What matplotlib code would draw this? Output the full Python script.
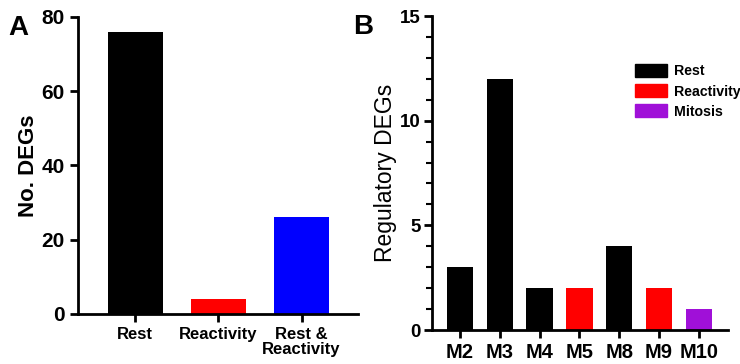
import numpy as np
import matplotlib.pyplot as plt
from matplotlib.patches import Patch
from matplotlib.ticker import MultipleLocator

plt.rcParams['font.family'] = ['Liberation Sans', 'DejaVu Sans']

# panel A
groups_a = ['Rest', 'Reactivity', 'Rest &\nReactivity']
degs_a = [76, 4, 26]
colors_a = ['black', '#ff0000', '#0000ff']

# panel B
modules_b = ['M2', 'M3', 'M4', 'M5', 'M8', 'M9', 'M10']
degs_b = [3, 12, 2, 2, 4, 2, 1]
class_b = ['Rest', 'Rest', 'Rest', 'Reactivity', 'Rest', 'Reactivity', 'Mitosis']
class_colors = {'Rest': 'black', 'Reactivity': '#ff0000', 'Mitosis': '#a010d8'}

fig = plt.figure(figsize=(7.4, 3.64), dpi=100)
axA = fig.add_axes([0.1054, 0.1374, 0.3784, 0.816])
axB = fig.add_axes([0.5838, 0.0934, 0.40, 0.8626])


def style(ax):
    for s in ['top', 'right']:
        ax.spines[s].set_visible(False)
    for s in ['left', 'bottom']:
        ax.spines[s].set_linewidth(2)
    ax.tick_params(width=2, length=6, direction='out')
    ax.tick_params(which='minor', width=1.5, length=4)


# A
xa = np.arange(len(groups_a))
axA.bar(xa, degs_a, width=0.66, color=colors_a)
axA.set_xlim(-0.69, 2.68)
axA.set_ylim(0, 80)
axA.set_yticks([0, 20, 40, 60, 80])
axA.set_xticks(xa)
axA.set_xticklabels(groups_a, fontsize=12, fontweight='bold', linespacing=1.0)
axA.set_ylabel('No. DEGs', fontsize=16, fontweight='bold', labelpad=2)
style(axA)
for lab in axA.get_yticklabels():
    lab.set_fontsize(15)
    lab.set_fontweight('bold')

# B
xb = np.arange(len(modules_b))
axB.bar(xb, degs_b, width=0.66, color=[class_colors[c] for c in class_b])
axB.set_xlim(-0.7, 6.73)
axB.set_ylim(0, 15)
axB.set_yticks([0, 5, 10, 15])
axB.yaxis.set_minor_locator(MultipleLocator(1))
axB.set_xticks(xb)
axB.set_xticklabels(modules_b, fontsize=14.5, fontweight='bold')
style(axB)
axB.tick_params(axis='y', which='major', pad=2)
axB.set_ylabel('Regulatory DEGs', fontsize=16.5, labelpad=2)
for lab in axB.get_yticklabels():
    lab.set_fontsize(13.5)
    lab.set_fontweight('bold')

handles = [Patch(color=class_colors[k], label=k) for k in ['Rest', 'Reactivity', 'Mitosis']]
axB.legend(handles=handles, loc='upper left', bbox_to_anchor=(0.6675, 0.865), frameon=False,
           prop={'weight': 'bold', 'size': 10.2}, handlelength=2.25, handleheight=1.05,
           handletextpad=0.5, labelspacing=0.4, borderaxespad=0)

fig.text(0.011, 0.904, 'A', fontsize=20, fontweight='bold', va='baseline')
fig.text(0.477, 0.907, 'B', fontsize=20, fontweight='bold', va='baseline')

fig.savefig('out.png', dpi=100)
